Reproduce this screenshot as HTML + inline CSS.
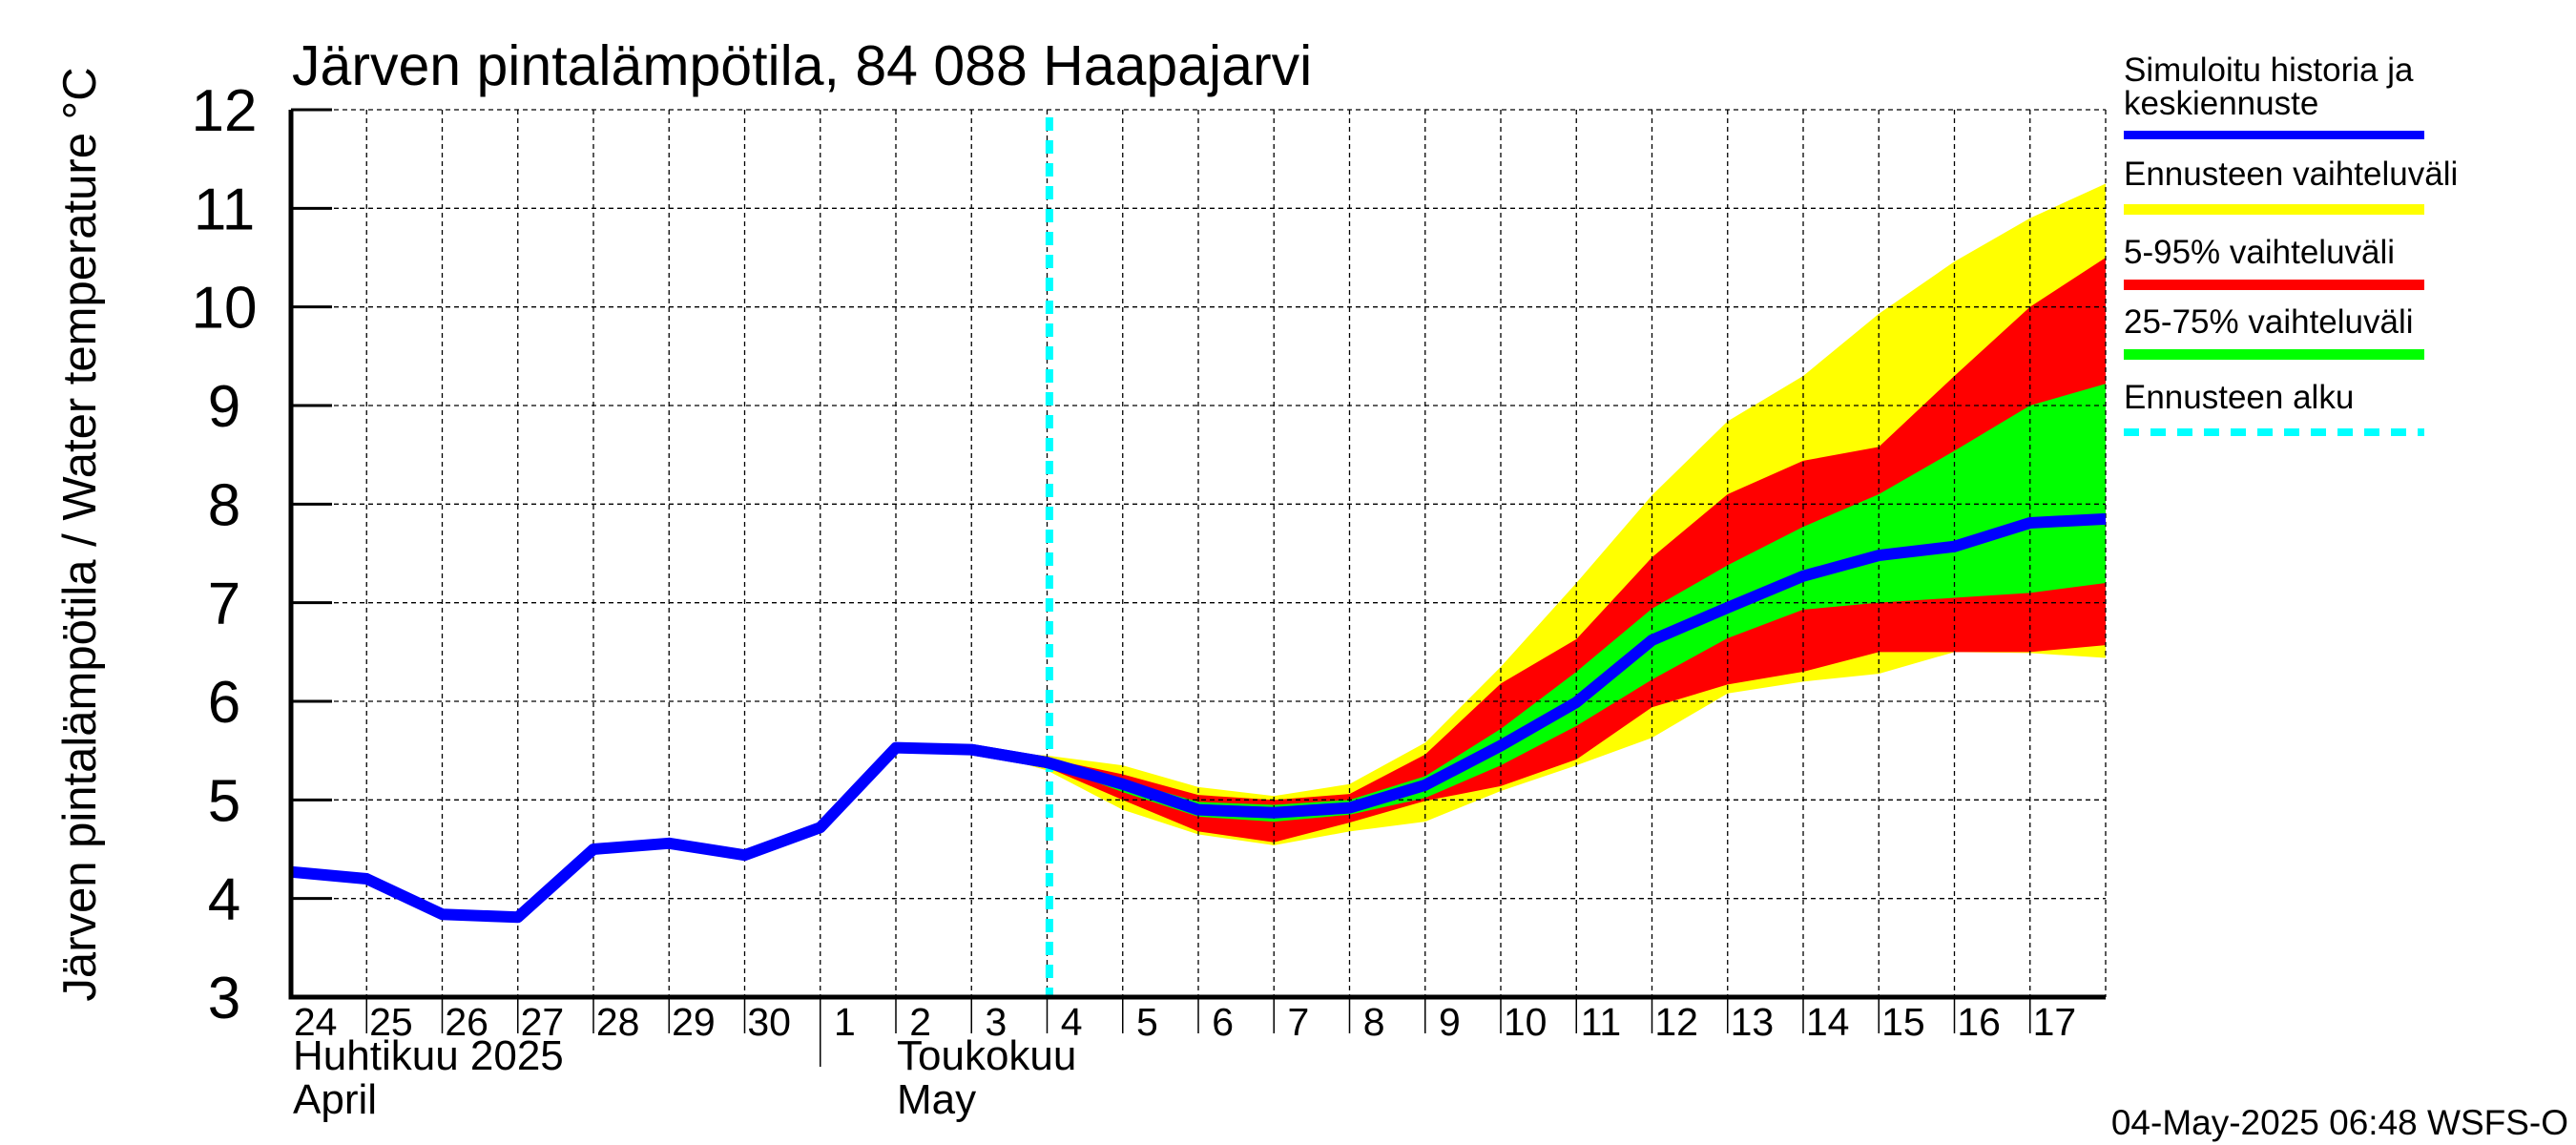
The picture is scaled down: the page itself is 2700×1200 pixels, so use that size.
<!DOCTYPE html>
<html><head><meta charset="utf-8"><style>
html,body{margin:0;padding:0;background:#fff;}
svg{display:block;font-family:"Liberation Sans",sans-serif;}
</style></head><body>
<svg id="chart" width="2700" height="1200" viewBox="0 0 2700 1200" xmlns="http://www.w3.org/2000/svg">
<g id="bands"></g>
<g id="grid"></g>
<g id="lines"></g>
<g id="axes"></g>
<text x="306" y="89" font-size="59">Järven pintalämpötila, 84 088 Haapajarvi</text>
<text transform="translate(100,560) rotate(-90)" text-anchor="middle" font-size="49">Järven pintalämpötila / Water temperature °C</text>
<text x="307" y="1121" font-size="44">Huhtikuu  2025</text>
<text x="307" y="1167" font-size="44">April</text>
<text x="940" y="1121" font-size="44">Toukokuu</text>
<text x="940" y="1167" font-size="44">May</text>
<g font-size="35">
<text x="2226" y="85">Simuloitu historia ja</text>
<text x="2226" y="120">keskiennuste</text>
<rect x="2226" y="137" width="315" height="9" fill="#0000ff"/>
<text x="2226" y="194">Ennusteen vaihteluväli</text>
<rect x="2226" y="214" width="315" height="11" fill="#ffff00"/>
<text x="2226" y="276">5-95% vaihteluväli</text>
<rect x="2226" y="293" width="315" height="11" fill="#ff0000"/>
<text x="2226" y="349">25-75% vaihteluväli</text>
<rect x="2226" y="366" width="315" height="11" fill="#00ff00"/>
<text x="2226" y="428">Ennusteen alku</text>
<line x1="2226" y1="453" x2="2541" y2="453" stroke="#00ffff" stroke-width="8" stroke-dasharray="16,12"/>
</g>
<text x="2692" y="1189" text-anchor="end" font-size="37">04-May-2025 06:48 WSFS-O</text>
</svg>
<script>
const dayLabels=["24","25","26","27","28","29","30","1","2","3","4","5","6","7","8","9","10","11","12","13","14","15","16","17"];
const yTicks=[3,4,5,6,7,8,9,10,11,12];
const histIdx=[0,1,2,3,4,5,6,7,8,9,10];
const histVal=[4.27,4.2,3.84,3.81,4.5,4.56,4.44,4.72,5.53,5.51,5.38];
const fcIdx=[9,10,11,12,13,14,15,16,17,18,19,20,21,22,23,24];
const fcMean=[5.51,5.38,5.16,4.9,4.87,4.92,5.15,5.55,5.99,6.62,6.95,7.27,7.48,7.57,7.81,7.85];
const yelTop=[5.51,5.45,5.35,5.13,5.04,5.16,5.58,6.35,7.2,8.09,8.84,9.3,9.93,10.46,10.9,11.25];
const yelBot=[5.51,5.3,4.9,4.65,4.54,4.68,4.78,5.09,5.35,5.63,6.08,6.2,6.28,6.5,6.49,6.44];
const redTop=[5.51,5.42,5.26,5.05,5.0,5.06,5.46,6.18,6.63,7.46,8.1,8.44,8.58,9.3,10.0,10.5];
const redBot=[5.51,5.33,5.0,4.68,4.57,4.77,4.99,5.14,5.41,5.94,6.17,6.3,6.5,6.5,6.5,6.57];
const grnTop=[5.51,5.4,5.2,4.98,4.95,5.0,5.24,5.72,6.3,6.94,7.38,7.77,8.1,8.54,9.0,9.22];
const grnBot=[5.51,5.36,5.08,4.83,4.78,4.85,5.02,5.35,5.75,6.22,6.64,6.93,7.0,7.05,7.1,7.2];
const forecastStart=10.03;
const X0=305,X1=2207,Y0=1045,Y1=115,NDAYS=24,YMIN=3,YMAX=12;
const xs=d=>X0+(X1-X0)*d/NDAYS;
const ys=v=>Y0-(Y0-Y1)*(v-YMIN)/(YMAX-YMIN);
const NS="http://www.w3.org/2000/svg";
function mk(tag,parent,attrs){const e=document.createElementNS(NS,tag);for(const k in attrs)e.setAttribute(k,attrs[k]);document.getElementById(parent).appendChild(e);return e;}
function band(top,bot,color,name){
 let p=fcIdx.map((d,i)=>xs(d)+","+ys(top[i]));
 let q=fcIdx.map((d,i)=>xs(d)+","+ys(bot[i])).reverse();
 const e=mk("polygon","bands",{points:p.concat(q).join(" "),fill:color});
 
 
}
band(yelTop,yelBot,"#ffff00","band-full-range");
band(redTop,redBot,"#ff0000","band-5-95");
band(grnTop,grnBot,"#00ff00","band-25-75");
for(let d=1;d<=NDAYS;d++){
 const e=mk("line","grid",{x1:xs(d),x2:xs(d),y1:Y1,y2:Y0,stroke:"#000","stroke-width":1.3,"stroke-dasharray":"5,4"});
 
 
}
yTicks.forEach(v=>{
 if(v===YMIN)return;
 const e=mk("line","grid",{x1:X0,x2:X1,y1:ys(v),y2:ys(v),stroke:"#000","stroke-width":1.3,"stroke-dasharray":"5,4"});
 
 
});
const fs=mk("line","lines",{x1:xs(forecastStart),x2:xs(forecastStart),y1:Y1+8,y2:Y0,stroke:"#00ffff","stroke-width":8,"stroke-dasharray":"14,10"});


const hp=mk("polyline","lines",{points:histIdx.map((d,i)=>xs(d)+","+ys(histVal[i])).join(" "),fill:"none",stroke:"#0000ff","stroke-width":12,"stroke-linejoin":"round"});


const mp=mk("polyline","lines",{points:fcIdx.map((d,i)=>xs(d)+","+ys(fcMean[i])).join(" "),fill:"none",stroke:"#0000ff","stroke-width":12,"stroke-linejoin":"round"});


const ax=mk("path","axes",{d:`M${X0},${Y1} V${Y0} H${X1}`,fill:"none",stroke:"#000","stroke-width":5});


yTicks.forEach(v=>{
 const t=mk("line","axes",{x1:X0,x2:X0+43,y1:ys(v),y2:ys(v),stroke:"#000","stroke-width":3});
 
 
 const l=mk("text","axes",{x:X0-70,y:ys(v)+22,"text-anchor":"middle","font-size":62});
 l.textContent=v;
 
 
});
dayLabels.forEach((s,d)=>{
 const ext=(s==="1")?1118:1083;
 if(d>0){const t=mk("line","axes",{x1:xs(d),x2:xs(d),y1:Y0,y2:ext,stroke:"#000","stroke-width":1.5});
 
 }
 const l=mk("text","axes",{x:xs(d)+(xs(1)-xs(0))/2-14,y:1085,"text-anchor":"middle","font-size":41});
 l.textContent=s;
 
 
});
</script>
</body></html>
